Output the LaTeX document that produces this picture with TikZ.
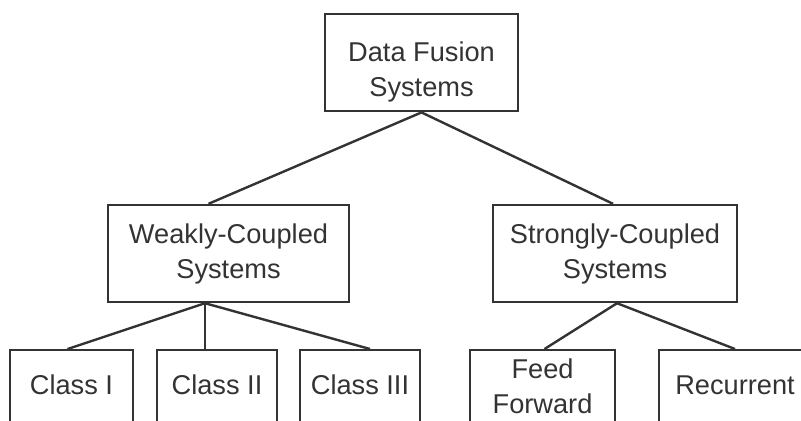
\documentclass[tikz,border=0pt]{standalone}
\usepackage{fontspec}
\setmainfont{Liberation Sans}

\begin{document}
\begin{tikzpicture}[x=0.5pt,y=-0.5pt,
  box/.style={draw=black!80, line width=1.2pt, text=black!80, align=center, inner sep=0pt,
    font=\fontsize{13.6pt}{17.5pt}\selectfont},
  leaf/.style={box, anchor=north, text height=22pt, text depth=30pt},
  link/.style={draw=black!80, line width=1.2pt}]
\useasboundingbox (0,0) rectangle (801,420);
\clip (0,0) rectangle (801,420);

% Top of the tree
\node[box, anchor=north, minimum width=96.5pt, text height=41pt, text depth=7.5pt] (dfs) at (421.5,13) {Data Fusion\\Systems};

% Two kinds of coupling
\node[box, minimum width=120.5pt, minimum height=48.5pt] (weak) at (228.5,253.5) {Weakly-Coupled\\Systems};
\node[box, minimum width=122pt, minimum height=48.5pt] (strong) at (615,253.5) {Strongly-Coupled\\Systems};

% Leaves (cut off at the bottom edge)
\node[leaf, minimum width=61.5pt] (c1) at (71.5,349) {Class I};
\node[leaf, minimum width=60pt] (c2) at (217,349) {Class II};
\node[leaf, minimum width=60pt] (c3) at (360,349) {Class III};
\node[leaf, minimum width=72.5pt, text height=31.5pt] (ff) at (542.5,349) {Feed\\Forward};
\node[leaf, minimum width=76pt] (rec) at (735,349) {Recurrent};

% Links
\draw[link] (dfs.south) -- ([xshift=-10pt]weak.north);
\draw[link] (dfs.south) -- ([xshift=-1pt]strong.north);
\draw[link] ([xshift=-11.75pt]weak.south) -- ([xshift=-2pt]c1.north);
\draw[link] ([xshift=-11.75pt]weak.south) -- ([xshift=-6pt]c2.north);
\draw[link] ([xshift=-11.75pt]weak.south) -- ([xshift=5pt]c3.north);
\draw[link] ([xshift=1pt]strong.south) -- ([xshift=1pt]ff.north);
\draw[link] ([xshift=1pt]strong.south) -- (rec.north);

\end{tikzpicture}
\end{document}
